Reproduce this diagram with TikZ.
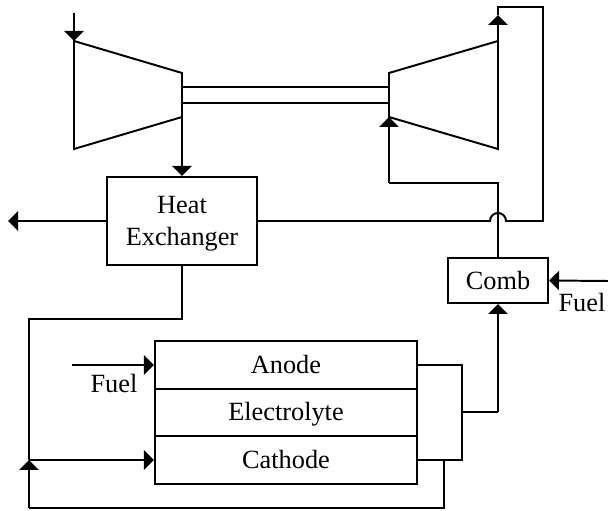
\documentclass[tikz,border=0pt]{standalone}
\usepackage{fontspec}
\setmainfont{Liberation Serif}
\usetikzlibrary{arrows.meta}
\tikzset{
    line/.style={black, line width=1.4pt, line join=miter},
    flow/.style={line, -{Triangle[length=2.5mm,width=4.8mm]}},
    unit/.style={draw, black, line width=1.4pt, inner sep=0pt, align=center, font=\fontsize{18.7}{22.5}\selectfont},
    layer/.style={unit, minimum width=6.55cm, minimum height=1.2cm, text height=14pt, text depth=2.6pt},
    tag/.style={font=\fontsize{18.7}{22}\selectfont},
}
\begin{document}
\begin{tikzpicture}[x=0.025cm, y=-0.025cm]
    \useasboundingbox (0,0) rectangle (608,511);

    \node[unit, minimum width=3.75cm, minimum height=2.2cm] (hx) at (182,221) {\rule{0pt}{16.5pt}Heat\\Exchanger};
    \node[unit, minimum width=2.5cm, minimum height=1.125cm] (comb) at (498,280.5) {Comb};
    \node[layer] (anode) at (286,365) {Anode};
    \node[layer, minimum height=1.175cm] (electrolyte) at (286,412.5) {Electrolyte};
    \node[layer] (cathode) at (286,460) {Cathode};
    \node[tag] (fuelright) at (582,303) {Fuel};
    \node[tag] (fuelleft) at (114,384) {Fuel};

    % compressor and turbine
    \coordinate (ct) at (74,41);
    \coordinate (cb) at (74,149);
    \coordinate (cu) at (182,73);
    \coordinate (cd) at (182,117);
    \coordinate (tt) at (498,41);
    \coordinate (tb) at (498,149);
    \coordinate (tu) at (389,73);
    \coordinate (td) at (389,117);
    \draw[line] (ct) -- (cu) -- (cd) -- (cb) -- cycle;
    \draw[line] (tt) -- (tu) -- (td) -- (tb) -- cycle;
    \draw[line] (182,87) -- (389,87);
    \draw[line] (182,103) -- (389,103);

    % air path
    \coordinate (inlet) at (74,13);
    \coordinate (outlet) at (8,221);
    \draw[flow] (inlet) -- (ct);
    \draw[flow] (cd) -- (hx.north);
    \draw[flow] (hx.west) -- (outlet);
    \coordinate (hxdown) at (182,319);
    \coordinate (leftbus) at (29,319);
    \coordinate (leftjoin) at (29,460);
    \draw[line] (hx.south) -- (hxdown) -- (leftbus) -- (leftjoin);
    \draw[flow] (leftjoin) -- (cathode.west);

    % exhaust from the turbine
    \coordinate (tarrow) at (498,15);
    \coordinate (ttop) at (498,7);
    \coordinate (tright) at (543,7);
    \coordinate (tdown) at (543,221);
    \coordinate (hopr) at (506,221);
    \coordinate (hopl) at (490,221);
    \draw[flow] (tt) -- (tarrow);
    \draw[line] (tarrow) -- (ttop) -- (tright) -- (tdown) -- (hopr) arc[start angle=360, end angle=180, radius=8] -- (hopl) -- (hx.east);

    % combustor
    \coordinate (combup) at (498,183);
    \coordinate (turbin) at (389,183);
    \coordinate (fuelin) at (608,281);
    \draw[line] (comb.north) -- (combup) -- (turbin);
    \draw[flow] (turbin) -- (td);
    \draw[flow] (fuelin) -- (comb.east);

    % stack outlets
    \coordinate (fuelstart) at (72,365);
    \draw[flow] (fuelstart) -- (anode.west);
    \coordinate (anr) at (462,365);
    \coordinate (car) at (462,460);
    \coordinate (midr) at (462,412);
    \coordinate (midc) at (498,412);
    \draw[line] (anode.east) -- (anr) -- (car) -- (cathode.east);
    \draw[line] (midr) -- (midc);
    \draw[flow] (midc) -- (comb.south);
    \coordinate (recup) at (444,460);
    \coordinate (recr) at (444,508);
    \coordinate (recl) at (29,508);
    \draw[line] (recup) -- (recr) -- (recl);
    \draw[flow] (recl) -- (leftjoin);
\end{tikzpicture}
\end{document}
